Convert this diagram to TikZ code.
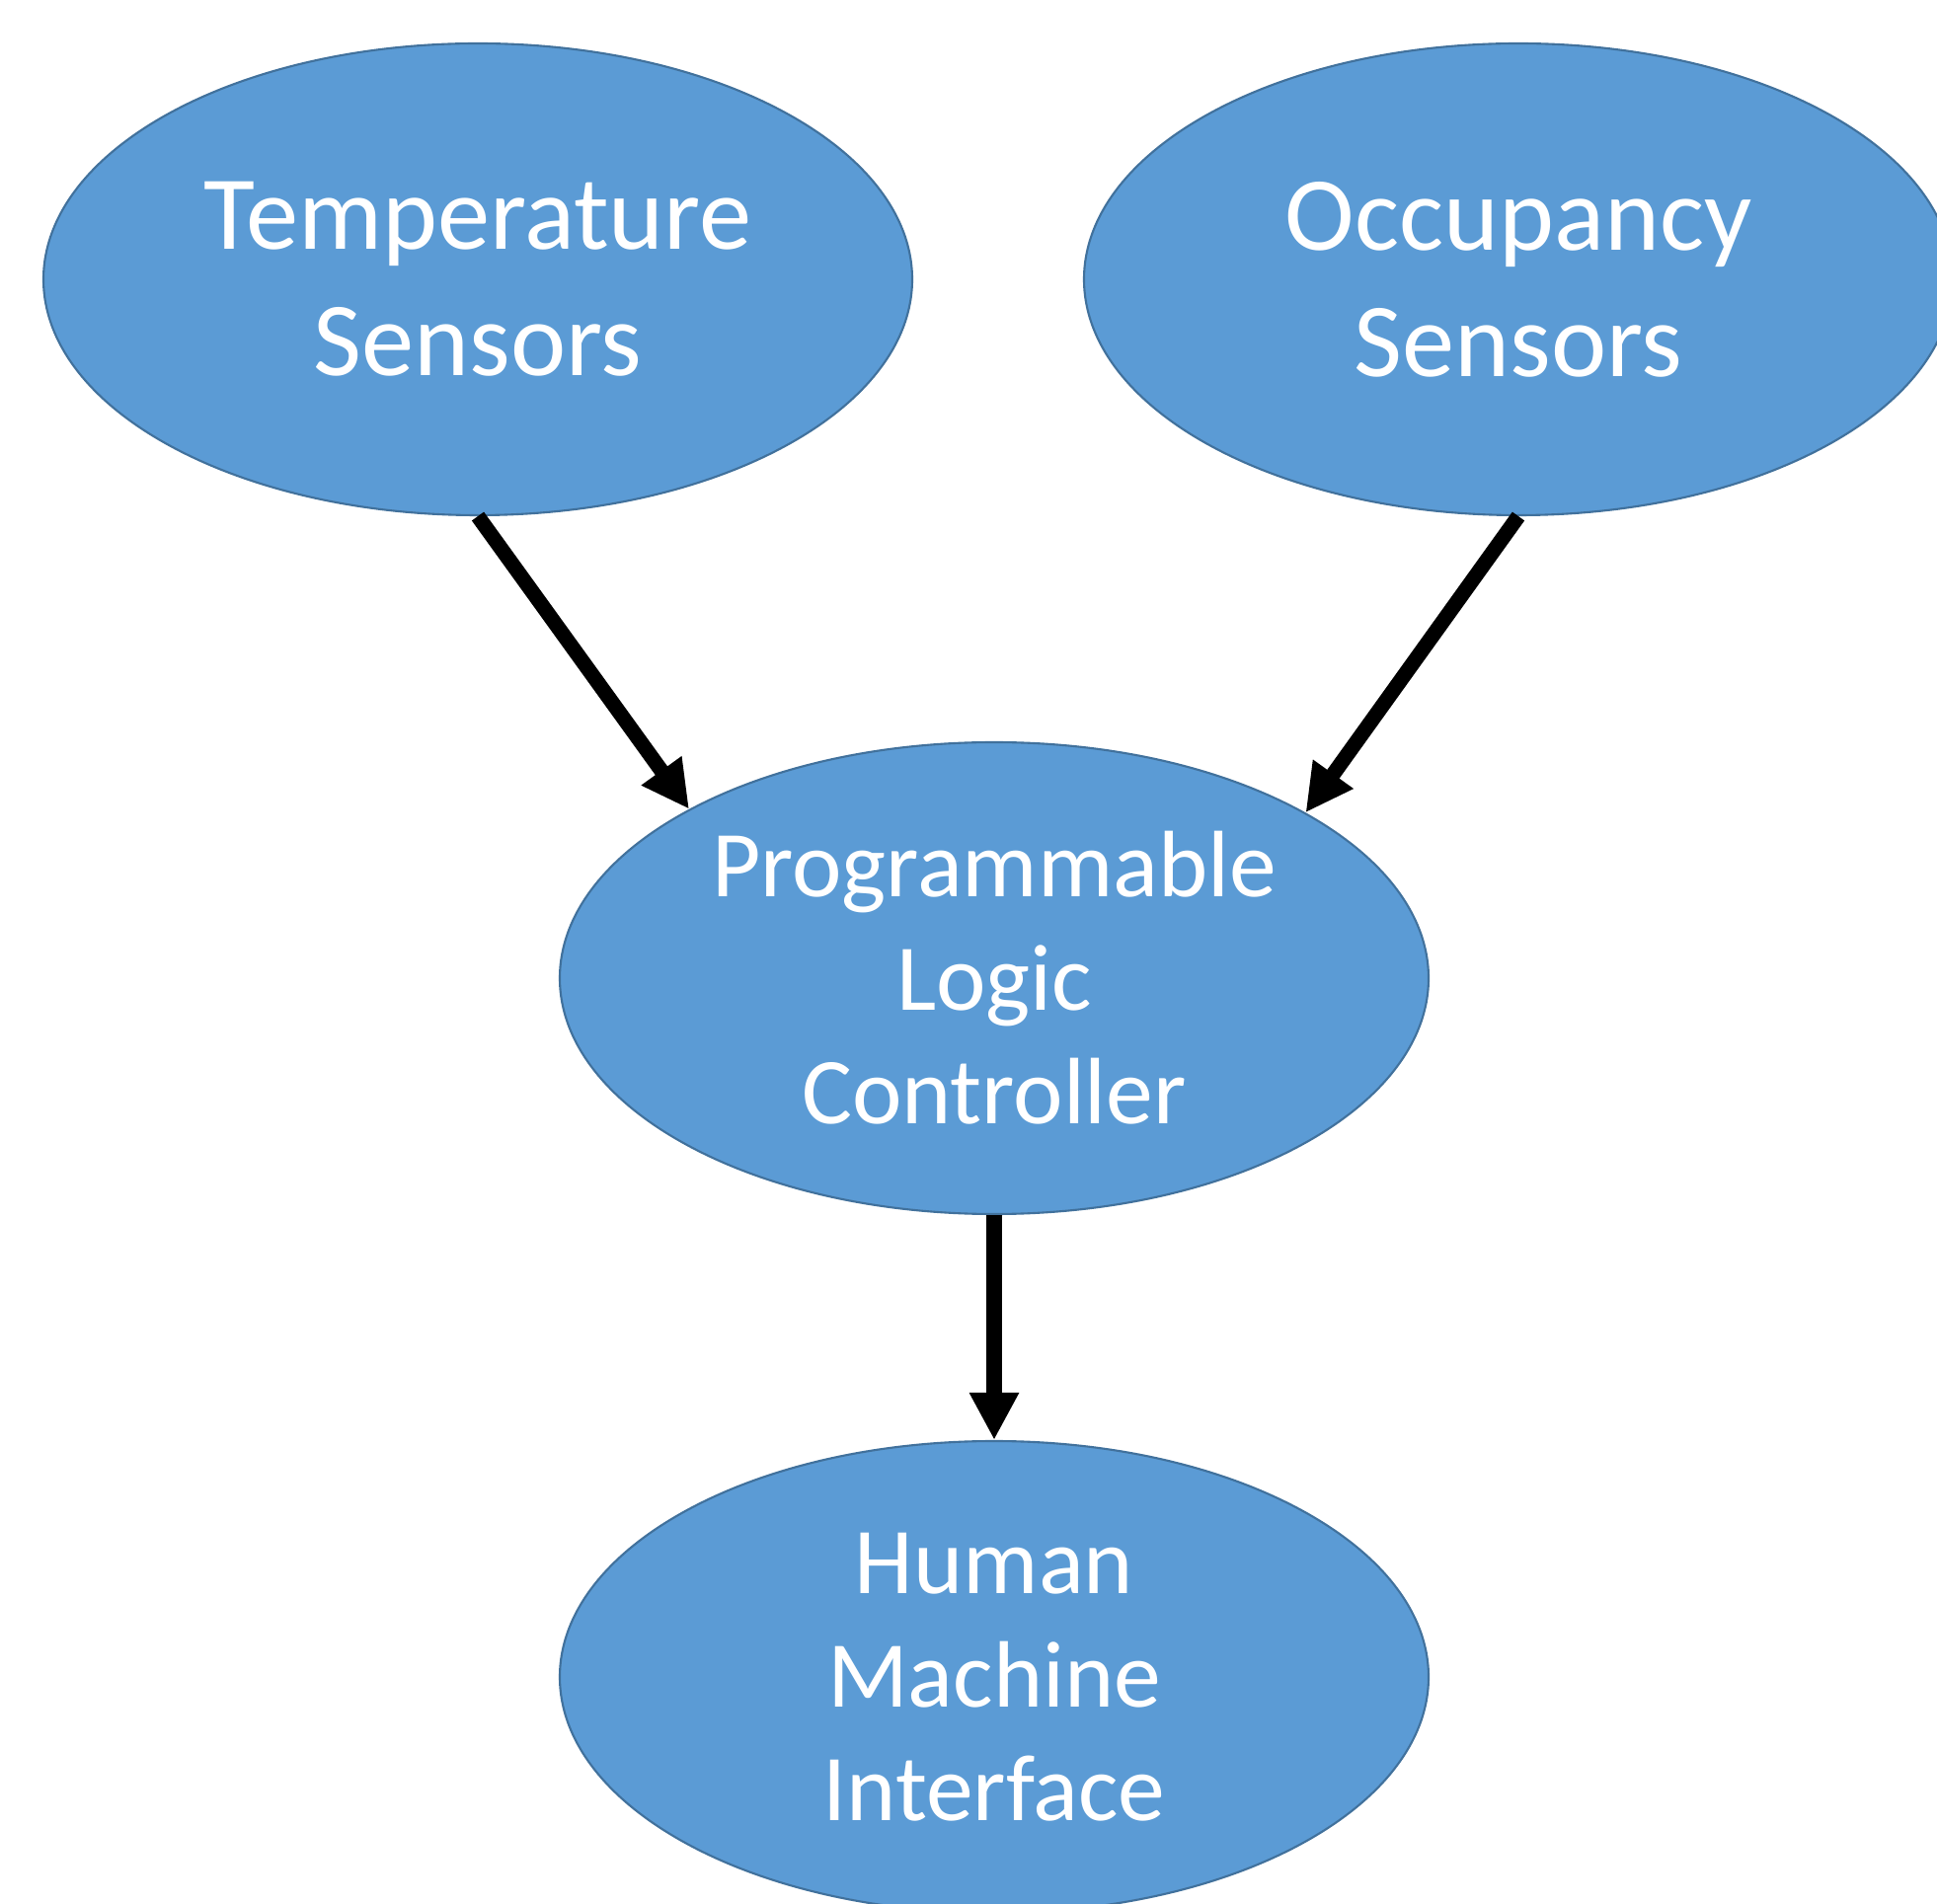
\documentclass[tikz,border=0pt]{standalone}
\usepackage{fontspec}
\setmainfont{Carlito}
\usetikzlibrary{shapes.geometric,arrows.meta}
\definecolor{blobfill}{HTML}{5B9BD5}
\definecolor{blobline}{HTML}{41719C}
\tikzset{
  blob/.style={ellipse, fill=blobfill, draw=blobline, line width=0.6pt,
    minimum width=8.8cm, minimum height=4.78cm, inner sep=0pt},
  blobtext/.style={text=white, align=center, inner sep=0pt,
    font=\fontsize{30.3}{36.4}\selectfont},
  smalltext/.style={blobtext, font=\fontsize{27.2}{32.7}\selectfont},
  flow/.style={line width=4.3pt, -{Triangle[length=4.8mm,width=4.7mm]}}
}
\begin{document}
\begin{tikzpicture}
    % page : 19.62 x 19.29 cm
    \useasboundingbox (0,0) rectangle (19.62,-19.29);
    \clip (0,0) rectangle (19.62,-19.29);

    % les capteurs
    \node[blob] (temp) at (4.84,-2.83) {};
    \node[blobtext] (temptxt) at (temp) {Temperature\\Sensors};
    \node[blob] (occ) at (15.38,-2.83) {};
    \node[blobtext] (occtxt) at (occ) {Occupancy\\Sensors};

    % l'automate
    \node[blob] (plc) at (10.07,-9.91) {};
    \node[smalltext] (plctxt) at (plc) {Programmable\\Logic\\Controller};

    % l'IHM
    \node[blob] (hmi) at (10.07,-16.99) {};
    \node[smalltext] (hmitxt) at (hmi) {Human\\Machine\\Interface};

    \draw[flow] (temp.south) -- (plc.151.5);
    \draw[flow] (occ.south) -- (plc.28.5);
    \draw[flow] (plc.south) -- (hmi.north);
\end{tikzpicture}
\end{document}
